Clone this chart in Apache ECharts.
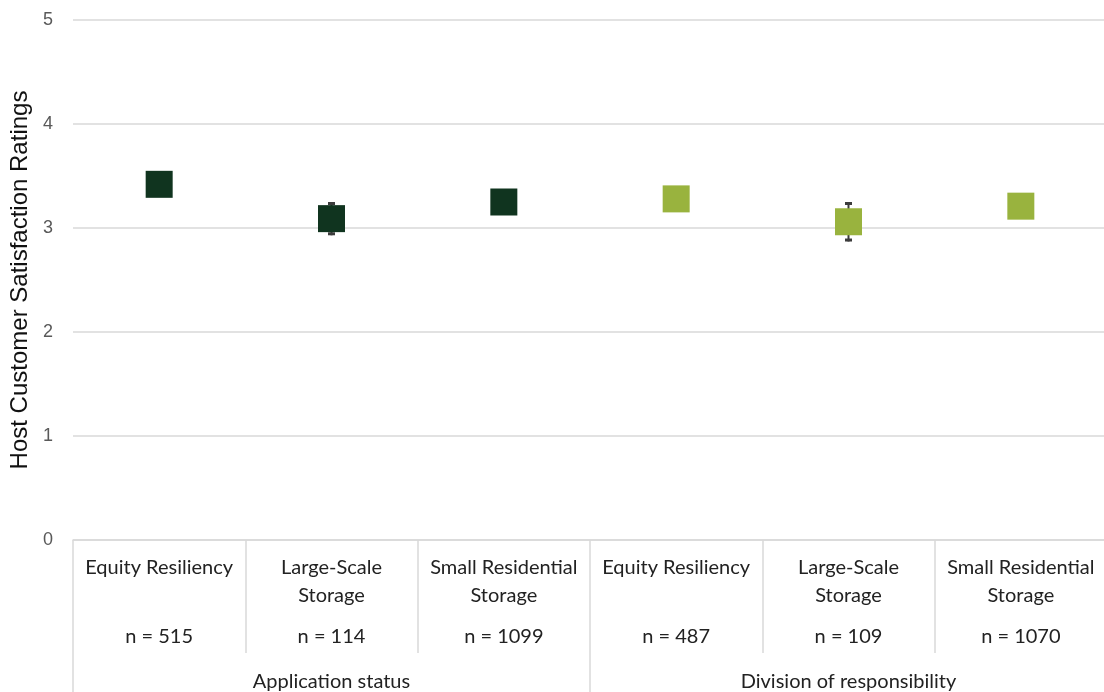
<!DOCTYPE html>
<html>
<head>
<meta charset="utf-8">
<script src="https://cdn.jsdelivr.net/npm/echarts@6/dist/echarts.min.js"></script>
<style>
  html, body { margin: 0; padding: 0; background: #fff; }
  #chart { width: 1104px; height: 692px; }
</style>
</head>
<body>
<div id="chart"></div>
<script>
// Sub-categories along the x axis (two groups of three)
const categoryLines = [
  ['Equity Resiliency', ' '],
  ['Large-Scale', 'Storage'],
  ['Small Residential', 'Storage'],
  ['Equity Resiliency', ' '],
  ['Large-Scale', 'Storage'],
  ['Small Residential', 'Storage']
];
const sampleSizes = ['n = 515', 'n = 114', 'n = 1099', 'n = 487', 'n = 109', 'n = 1070'];
const groups = ['Application status', 'Division of responsibility'];

// Mean satisfaction rating and half-width of its error bar
const applicationMeans = [3.42, 3.09, 3.25, null, null, null];
const divisionMeans = [null, null, null, 3.28, 3.06, 3.21];
const errors = [0.07, 0.16, 0.05, 0.08, 0.19, 0.05];

const yTicks = [0, 1, 2, 3, 4, 5];

const categories = categoryLines.map((l, i) => i + '');
const means = applicationMeans.map((v, i) => v != null ? v : divisionMeans[i]);
const errorData = means.map((m, i) => [i, m - errors[i], m + errors[i]]);

const DARK = '#10341f';
const LIGHT = '#99b33e';
const GRID = '#d9d9d9';
const labelFont = 'Lato, "Open Sans", sans-serif';
const axisFont = '"Liberation Sans", Arial, sans-serif';

const chart = echarts.init(document.getElementById('chart'));
chart.setOption({
  animation: false,
  backgroundColor: '#fff',
  grid: { left: 73, right: -3, top: 20, bottom: 152, containLabel: false, outerBoundsMode: 'none' },
  xAxis: [
    {
      type: 'category',
      data: categories,
      position: 'bottom',
      axisLine: { show: true, lineStyle: { color: GRID, width: 1.5 } },
      axisTick: { show: true, interval: 0, length: 113, lineStyle: { color: GRID, width: 1.5 } },
      axisLabel: {
        interval: 0,
        margin: 14,
        formatter: (v) => {
          const i = +v;
          return '{a|' + categoryLines[i][0] + '}\n{a|' + categoryLines[i][1] + '}\n{n|' + sampleSizes[i] + '}';
        },
        rich: {
          a: { fontFamily: labelFont, fontSize: 20, color: '#222', lineHeight: 28, align: 'center' },
          n: { fontFamily: labelFont, fontSize: 20, color: '#222', lineHeight: 54, align: 'center' }
        }
      },
      splitLine: { show: false }
    },
    {
      type: 'category',
      data: groups,
      position: 'bottom',
      gridIndex: 0,
      axisLine: { show: false },
      axisTick: { show: true, interval: 0, length: 152, lineStyle: { color: GRID, width: 1.5 } },
      axisLabel: {
        interval: 0,
        margin: 132,
        fontFamily: labelFont,
        fontSize: 20,
        color: '#222',
        lineHeight: 20
      },
      splitLine: { show: false }
    }
  ],
  yAxis: {
    type: 'value',
    min: yTicks[0],
    max: yTicks[yTicks.length - 1],
    interval: 1,
    name: 'Host Customer Satisfaction Ratings',
    nameLocation: 'middle',
    nameGap: 37,
    nameRotate: 90,
    nameTextStyle: { fontFamily: axisFont, fontSize: 24, color: '#111' },
    axisLine: { show: false },
    axisTick: { show: false },
    axisLabel: { margin: 20, fontFamily: axisFont, fontSize: 18, color: '#595959' },
    splitLine: { show: true, lineStyle: { color: GRID, width: 1.5 } }
  },
  series: [
    {
      type: 'custom',
      name: 'error',
      xAxisIndex: 0,
      z: 1,
      data: errorData,
      renderItem: (params, api) => {
        const x = api.value(0);
        const lo = api.coord([x, api.value(1)]);
        const hi = api.coord([x, api.value(2)]);
        const style = { stroke: '#3c3c3c', lineWidth: 2 };
        const capStyle = { stroke: '#3c3c3c', lineWidth: 3 };
        return {
          type: 'group',
          children: [
            { type: 'line', shape: { x1: lo[0], y1: lo[1], x2: hi[0], y2: hi[1] }, style },
            { type: 'line', shape: { x1: hi[0] - 3.5, y1: hi[1] + 1.5, x2: hi[0] + 3.5, y2: hi[1] + 1.5 }, style: capStyle },
            { type: 'line', shape: { x1: lo[0] - 3.5, y1: lo[1] - 1.5, x2: lo[0] + 3.5, y2: lo[1] - 1.5 }, style: capStyle }
          ]
        };
      }
    },
    {
      type: 'scatter',
      name: 'Application status',
      xAxisIndex: 0,
      z: 3,
      symbol: 'rect',
      symbolSize: 27,
      itemStyle: { color: DARK, opacity: 1 },
      data: applicationMeans
    },
    {
      type: 'scatter',
      name: 'Division of responsibility',
      xAxisIndex: 0,
      z: 3,
      symbol: 'rect',
      symbolSize: 27,
      itemStyle: { color: LIGHT, opacity: 1 },
      data: divisionMeans
    }
  ]
});
</script>
</body>
</html>
